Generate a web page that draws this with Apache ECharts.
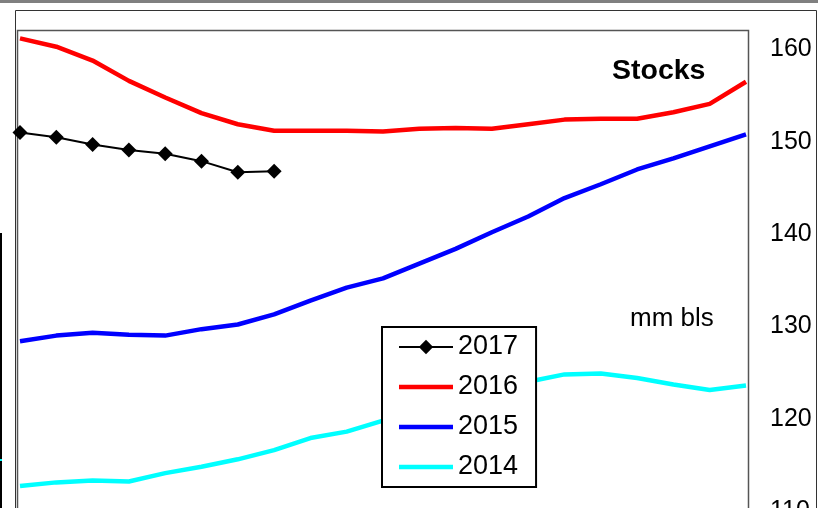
<!DOCTYPE html>
<html>
<head>
<meta charset="utf-8">
<script src="https://cdn.jsdelivr.net/npm/echarts@6/dist/echarts.min.js"></script>
<style>
  html, body { margin: 0; padding: 0; background: #fff; }
  #chart { width: 818px; height: 508px; }
</style>
</head>
<body>
<div id="chart"></div>
<script>
// weekly stocks, mm bls
const weeks = ["W1","W2","W3","W4","W5","W6","W7","W8","W9","W10","W11","W12","W13","W14","W15","W16","W17","W18","W19","W20","W21"];
const s2017 = [151.0, 150.5, 149.7, 149.1, 148.7, 147.9, 146.7, 146.8];
const s2016 = [161.2, 160.3, 158.8, 156.6, 154.8, 153.1, 151.9, 151.2, 151.2, 151.2, 151.1, 151.4, 151.5, 151.4, 151.9, 152.4, 152.5, 152.5, 153.2, 154.1, 156.5];
const s2015 = [128.4, 129.0, 129.3, 129.1, 129.0, 129.7, 130.2, 131.3, 132.8, 134.2, 135.2, 136.8, 138.4, 140.2, 141.9, 143.9, 145.4, 147.0, 148.2, 149.5, 150.8];
const s2014 = [112.7, 113.1, 113.3, 113.2, 114.1, 114.8, 115.6, 116.6, 117.9, 118.6, 119.8, 120.9, 122.0, 123.1, 124.0, 124.8, 124.9, 124.4, 123.7, 123.1, 123.6];

const chart = echarts.init(document.getElementById("chart"));
const font = "Liberation Sans, Arial, sans-serif";
const bar = "path://M0,0H108V9H0Z"; // flat legend stroke

chart.setOption({
  animation: false,
  backgroundColor: "#fff",
  grid: { left: 20, right: 72, top: 31, bottom: -3, outerBoundsMode: "none", containLabel: false },
  xAxis: {
    type: "category", data: weeks, boundaryGap: false,
    axisLine: { show: false }, axisTick: { show: false }, axisLabel: { show: false }
  },
  yAxis: {
    type: "value", position: "right", min: 110, max: 162, interval: 10,
    axisLine: { show: false }, axisTick: { show: false }, splitLine: { show: false },
    axisLabel: { margin: 24, color: "#000", fontFamily: font, fontSize: 25, padding: [4, 0, 0, 0],
      formatter: (v) => (v % 10 === 0 ? v : "") }
  },
  legend: {
    orient: "vertical", left: 382, top: 327,
    padding: [0, 18, 0, 16], itemGap: 0, itemWidth: 54, itemHeight: 18,
    backgroundColor: "#fff", borderColor: "#000", borderWidth: 2,
    textStyle: { color: "#000", fontFamily: font, fontSize: 27, lineHeight: 40 },
    data: [
      { name: "2017" },
      { name: "2016", icon: bar },
      { name: "2015", icon: bar },
      { name: "2014", icon: bar }
    ]
  },
  graphic: [
    { type: "rect", shape: { x: 0, y: 0, width: 818, height: 3 }, style: { fill: "#808080" } },
    { type: "polyline", shape: { points: [[15.5, 508], [15.5, 10.5], [816.5, 10.5], [816.5, 508]] },
      style: { stroke: "#333", lineWidth: 1, fill: null } },
    { type: "polyline", shape: { points: [[17.5, 508], [17.5, 30.5], [748.5, 30.5], [748.5, 508]] },
      style: { stroke: "#555", lineWidth: 1.5, fill: null } },
    { type: "rect", shape: { x: 0, y: 233, width: 2, height: 275 }, style: { fill: "#000" } },
    { type: "rect", shape: { x: 0, y: 459, width: 2, height: 2 }, style: { fill: "#00ffff" } },
    { type: "text", left: 612, top: 57, z: 10,
      style: { text: "Stocks", font: "bold 28.5px " + font, fill: "#000" } },
    { type: "text", left: 630, top: 306, z: 10,
      style: { text: "mm bls", font: "26px " + font, fill: "#000" } }
  ],
  series: [
    { name: "2017", type: "line", data: s2017, symbol: "diamond", symbolSize: 15,
      lineStyle: { color: "#000", width: 2 }, itemStyle: { color: "#000" }, z: 5 },
    { name: "2016", type: "line", data: s2016, symbol: "none",
      lineStyle: { color: "#ff0000", width: 4.5 }, itemStyle: { color: "#ff0000" } },
    { name: "2015", type: "line", data: s2015, symbol: "none",
      lineStyle: { color: "#0000ff", width: 4.5 }, itemStyle: { color: "#0000ff" } },
    { name: "2014", type: "line", data: s2014, symbol: "none",
      lineStyle: { color: "#00ffff", width: 4.5 }, itemStyle: { color: "#00ffff" } }
  ]
});
</script>
</body>
</html>
